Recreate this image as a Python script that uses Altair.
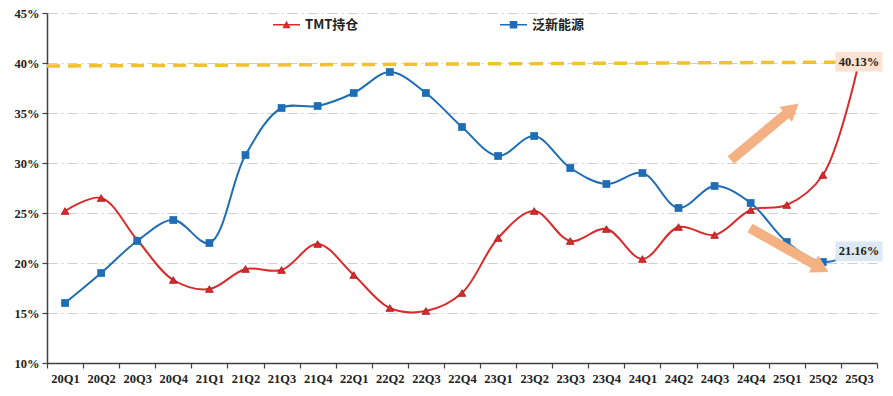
import altair as alt
import pandas as pd

quarters = ["20Q1", "20Q2", "20Q3", "20Q4", "21Q1", "21Q2", "21Q3", "21Q4",
            "22Q1", "22Q2", "22Q3", "22Q4", "23Q1", "23Q2", "23Q3", "23Q4",
            "24Q1", "24Q2", "24Q3", "24Q4", "25Q1", "25Q2", "25Q3"]
tmt = [25.2, 26.5, 22.3, 18.3, 17.4, 19.4, 19.3, 21.9, 18.8, 15.5, 15.2, 17.0,
       22.5, 25.2, 22.2, 23.4, 20.4, 23.6, 22.8, 25.3, 25.8, 28.8, 40.13]
new_energy = [16.0, 19.0, 22.2, 24.3, 22.0, 30.8, 35.5, 35.7, 37.0, 39.1, 37.0, 33.6,
              30.7, 32.7, 29.5, 27.9, 29.0, 25.5, 27.7, 26.0, 22.1, 20.1, 21.16]
series_names = ["TMT持仓", "泛新能源"]
end_labels = ["40.13%", "21.16%"]
end_values = [40.13, 21.16]

ref_x = [-0.5, 22.5]
ref_y = [39.7, 40.1]
arrow_up_x = [18.45, 20.15]
arrow_up_y = [30.3, 35.4]
arrow_down_x = [18.98, 20.95]
arrow_down_y = [23.5, 19.5]

RED = "#D92B2B"
BLUE = "#1F6EB5"
GOLD = "#F2C12E"
PEACH = "#F4B183"

n = len(quarters)
df = pd.DataFrame({"idx": list(range(n)), "q": quarters, "tmt": tmt, "ne": new_energy})

q_array = "[" + ",".join("'%s'" % q for q in quarters) + "]"
xscale = alt.Scale(domain=[-0.5, n - 0.5], nice=False, zero=False)
yscale = alt.Scale(domain=[10, 45], nice=False, zero=False)

x_label_axis = alt.Axis(
    values=list(range(n)), labelExpr="%s[datum.value]" % q_array,
    labelOverlap=False, labelFlush=False, grid=False, title=None,
    ticks=False, domain=False, labelPadding=9, orient="bottom",
)
x_tick_axis = alt.Axis(
    values=[i - 0.5 for i in range(n + 1)], labels=False, grid=False, title=None,
    tickSize=5, orient="bottom",
)
y_axis = alt.Axis(
    values=[10, 15, 20, 25, 30, 35, 40, 45], labelExpr="datum.value + '%'",
    grid=True, gridColor="#cfcfcf", gridDash=[10, 4, 2, 4], gridWidth=1,
    title=None, tickSize=5, labelPadding=3,
)


def Y(field):
    return alt.Y(field, scale=yscale, axis=y_axis)


base = alt.Chart(df)

red_line = base.mark_line(color=RED, strokeWidth=2, interpolate="catmull-rom").encode(
    x=alt.X("idx:Q", scale=xscale, axis=x_label_axis), y=Y("tmt:Q"),
)
blue_line = base.mark_line(color=BLUE, strokeWidth=2, interpolate="catmull-rom").encode(
    x=alt.X("idx:Q", scale=xscale, axis=None), y=Y("ne:Q"),
)
red_pts = base.mark_point(shape="triangle-up", filled=True, fill=RED, stroke="#A51515",
                          strokeWidth=0.8, size=60, opacity=1).encode(
    x=alt.X("idx:Q", scale=xscale, axis=None), y=Y("tmt:Q"),
)
blue_pts = base.mark_point(shape="square", filled=True, fill=BLUE, size=60, opacity=1).encode(
    x=alt.X("idx:Q", scale=xscale, axis=None), y=Y("ne:Q"),
)

ref_df = pd.DataFrame({"x": ref_x, "y": ref_y})
ref_line = alt.Chart(ref_df).mark_line(color=GOLD, strokeWidth=3.5, strokeDash=[13, 8]).encode(
    x=alt.X("x:Q", scale=xscale, axis=x_tick_axis), y=Y("y:Q"),
)

up_df = pd.DataFrame({"x": arrow_up_x, "y": arrow_up_y})
down_df = pd.DataFrame({"x": arrow_down_x, "y": arrow_down_y})
up_shaft = alt.Chart(up_df).mark_line(color=PEACH, strokeWidth=10, strokeCap="butt").encode(
    x=alt.X("x:Q", scale=xscale, axis=None), y=Y("y:Q"))
down_shaft = alt.Chart(down_df).mark_line(color=PEACH, strokeWidth=10, strokeCap="butt").encode(
    x=alt.X("x:Q", scale=xscale, axis=None), y=Y("y:Q"))
up_head = alt.Chart(up_df.tail(1)).mark_point(shape="triangle-up", filled=True, fill=PEACH,
                                               size=380, angle=50, opacity=1).encode(
    x=alt.X("x:Q", scale=xscale, axis=None), y=Y("y:Q"))
down_head = alt.Chart(down_df.tail(1)).mark_point(shape="triangle-up", filled=True, fill=PEACH,
                                                   size=380, angle=119, opacity=1).encode(
    x=alt.X("x:Q", scale=xscale, axis=None), y=Y("y:Q"))

lab_df = pd.DataFrame({"x": [n - 1, n - 1], "y": end_values, "t": end_labels,
                       "fill": ["#FBE2D3", "#DCE8F4"]})
boxes = alt.Chart(lab_df).mark_point(shape="M-1,-0.42H1V0.42H-1Z", size=2209, filled=True,
                                     opacity=1, strokeWidth=0).encode(
    x=alt.X("x:Q", scale=xscale, axis=None), y=Y("y:Q"),
    fill=alt.Fill("fill:N", scale=None),
)
texts = alt.Chart(lab_df).mark_text(font="Liberation Serif", fontWeight="bold", fontSize=12.5,
                                    color="#222222").encode(
    x=alt.X("x:Q", scale=xscale, axis=None), y=Y("y:Q"),
    text="t:N",
)

tri_path = "M-1,-0.06H1V0.06H-1Z M-0.3,0.26L0,-0.3L0.3,0.26Z"
sq_path = "M-1,-0.06H1V0.06H-1Z M-0.28,-0.28H0.28V0.28H-0.28Z"
leg_props = dict(orient="none", legendX=225, legendY=-3, direction="horizontal",
                 title=None, columnPadding=140, labelOffset=4,
                 labelFont="Noto Sans CJK SC", labelFontWeight="bold",
                 labelFontSize=13, labelColor="#222222", symbolSize=729)
leg_df = pd.DataFrame({"s": series_names})
legend_layer = alt.Chart(leg_df).mark_point(filled=True, size=729, opacity=1, strokeWidth=0).encode(
    color=alt.Color("s:N", scale=alt.Scale(domain=series_names, range=[RED, BLUE]),
                    legend=alt.Legend(**leg_props)),
    shape=alt.Shape("s:N", scale=alt.Scale(domain=series_names, range=[tri_path, sq_path]),
                    legend=alt.Legend(**leg_props)),
).transform_filter("false")

chart = alt.layer(
    ref_line, red_line, blue_line, red_pts, blue_pts,
    up_shaft, down_shaft, up_head, down_head, boxes, texts, legend_layer,
).resolve_scale(x="independent").properties(
    width=830, height=350,
    autosize=alt.AutoSizeParams(type="none"),
    padding={"left": 39, "top": 5, "right": 8, "bottom": 25},
).configure_view(stroke=None).configure_axis(
    labelFont="Liberation Serif", labelFontWeight="bold", labelFontSize=12.5, labelColor="#222222",
    domainColor="#404040", domainWidth=1.5, tickColor="#404040", tickWidth=1.2,
)

chart.save("out.html", embed_options={"renderer": "svg", "actions": False})
